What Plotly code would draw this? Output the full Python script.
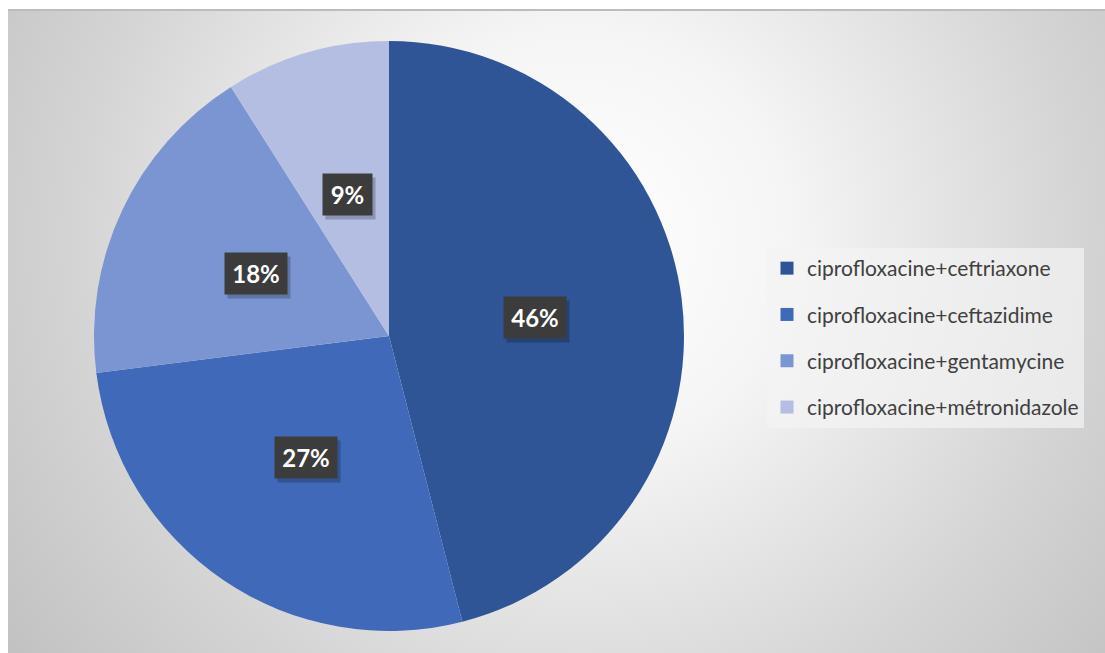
import plotly.graph_objects as go
import math

# Combination therapies and their share (%)
categories = [
    "ciprofloxacine+ceftriaxone",
    "ciprofloxacine+ceftazidime",
    "ciprofloxacine+gentamycine",
    "ciprofloxacine+métronidazole",
]
shares = [46, 27, 18, 9]
colors = ["#2F5597", "#4169BA", "#7B95D2", "#B3BEE2"]

W, H = 1105, 653
# chart area (pixels) and pie geometry
X0, Y0 = 8, 10
CX, CY, R = 389, 336, 295

fig = go.Figure()

# radial-gradient backdrop: a square polygon (so the gradient is circular),
# clipped by the plot area to the chart rectangle
GX, GY, S = 580, 240, 700
fig.add_trace(go.Scatter(
    x=[GX - S, GX + S, GX + S, GX - S, GX - S],
    y=[GY - S, GY - S, GY + S, GY + S, GY - S],
    mode="lines", fill="toself", line=dict(width=0),
    fillgradient=dict(type="radial",
                      colorscale=[[0, "#ffffff"], [0.3, "#f5f5f5"],
                                  [0.72, "#d4d4d4"], [1, "#c2c2c2"]]),
    hoverinfo="skip", showlegend=False,
))

# pie
fig.add_trace(go.Pie(
    labels=categories, values=shares, sort=False, direction="clockwise",
    rotation=0, textinfo="none", marker=dict(colors=colors, line=dict(width=0)),
    domain=dict(x=[(CX - R) / W, (CX + R) / W], y=[(H - CY - R) / H, (H - CY + R) / H]),
    showlegend=False, hoverinfo="label+percent",
))

# legend entries
for i, (name, col) in enumerate(zip(categories, colors)):
    fig.add_trace(go.Scatter(
        x=[None], y=[None], mode="markers", name=name,
        marker=dict(symbol="square", size=13, color=col),
        legendgroup=f"g{i}",
    ))

# percentage labels in dark boxes at half radius on each slice's mid-angle
total = sum(shares)
cum = 0
for v in shares:
    mid = (cum + v / 2) / total * 2 * math.pi
    cum += v
    lx = CX + 0.5 * R * math.sin(mid)
    ly = CY - 0.5 * R * math.cos(mid)
    txt = f"{round(v / total * 100)}%"
    bw = 13 * len(txt) + 11
    # soft shadow behind the box
    fig.add_annotation(x=lx, y=ly, xref="x", yref="y", text="&nbsp;", showarrow=False,
                       xshift=3, yshift=-4, width=bw, height=29, borderpad=6,
                       bgcolor="rgba(0,0,0,0.22)", font=dict(size=10))
    fig.add_annotation(x=lx, y=ly, xref="x", yref="y", text=txt, showarrow=False,
                       width=bw, height=29, borderpad=6, bgcolor="#3c3c3c",
                       font=dict(family="Lato", size=24, color="white", weight="bold"))

# thin top border of the chart area
fig.add_shape(type="line", xref="paper", yref="paper", x0=X0 / W, x1=1,
              y0=1 - Y0 / H, y1=1 - Y0 / H, line=dict(color="#bcbcbc", width=2))

fig.update_layout(
    width=W, height=H,
    margin=dict(l=0, r=0, t=0, b=0),
    paper_bgcolor="white", plot_bgcolor="rgba(0,0,0,0)",
    xaxis=dict(range=[X0, W], visible=False, domain=[X0 / W, 1], fixedrange=True),
    yaxis=dict(range=[H, Y0], visible=False, domain=[0, 1 - Y0 / H], fixedrange=True),
    legend=dict(
        x=767 / W, y=1 - 248 / H, xanchor="left", yanchor="top",
        bgcolor="rgba(243,243,243,0.7)", tracegroupgap=16,
        font=dict(family="Lato", size=21, color="#404040"),
        itemwidth=30,
    ),
    showlegend=True,
)

fig.write_html("out.html")
